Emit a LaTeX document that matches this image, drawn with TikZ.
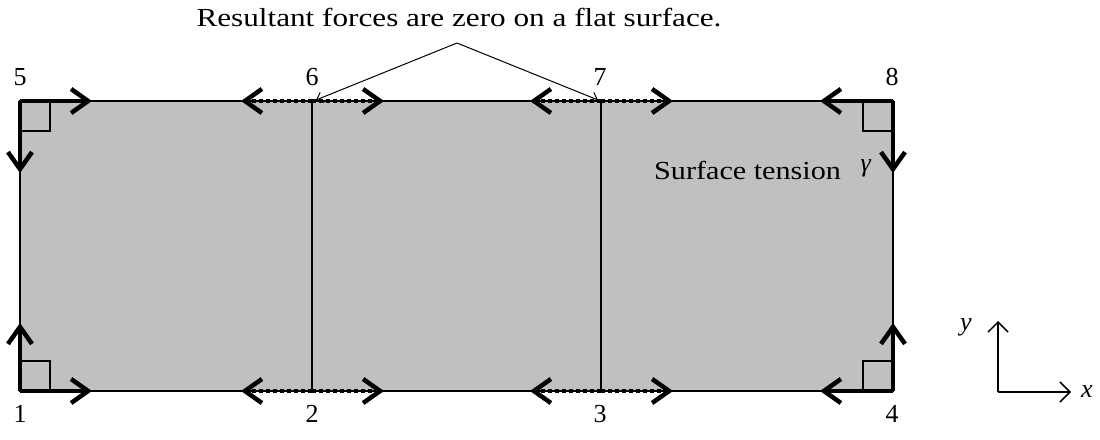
\documentclass[tikz,border=0pt]{standalone}
\usepackage{fontspec}
\usepackage{graphicx}
\setmainfont{Liberation Serif}
\usetikzlibrary{arrows.meta}
\definecolor{sheet}{RGB}{192,192,192}
\newcommand\widetext[1]{\scalebox{1.2}[1]{#1}}
\tikzset{
  force/.style={line width=4.5pt,-{Straight Barb[length=17pt,width=24pt]}},
  dotforce/.style={line width=4pt,dash pattern=on 4pt off 3pt,-{Straight Barb[length=17pt,width=24pt,line width=4.5pt]}},
  thinline/.style={line width=1.3pt},
  lbl/.style={font=\fontsize{26}{30}\selectfont, inner sep=0pt},
  pointer/.style={line width=1pt,-{Straight Barb[length=6pt,width=11pt]}},
  axis/.style={line width=1.5pt,-{Straight Barb[length=10pt,width=20pt]}}
}
\begin{document}
\begin{tikzpicture}[x=1pt,y=-1pt]
\useasboundingbox (0,0) rectangle (1100,439);
% corners
\coordinate (c1) at (20,391);
\coordinate (c2) at (312,391);
\coordinate (c3) at (601,391);
\coordinate (c4) at (893,391);
\coordinate (c5) at (20,101);
\coordinate (c6) at (312,101);
\coordinate (c7) at (601,101);
\coordinate (c8) at (893,101);
% sheet
\fill[sheet] (c5) rectangle (c4);
\draw[thinline] (c5) rectangle (c4);
\draw[thinline] (c6) -- (c2);
\draw[thinline] (c7) -- (c3);
% right-angle marks
\draw[thinline] (c5) rectangle +(30,30);
\draw[thinline] (c8) rectangle +(-30,30);
\draw[thinline] (c1) rectangle +(30,-30);
\draw[thinline] (c4) rectangle +(-30,-30);
% corner forces
\draw[force] (c5) -- +(72,0);
\draw[force] (c5) -- +(0,72);
\draw[force] (c8) -- +(-73,0);
\draw[force] (c8) -- +(0,72);
\draw[force] (c1) -- +(72,0);
\draw[force] (c1) -- +(0,-68);
\draw[force] (c4) -- +(-73,0);
\draw[force] (c4) -- +(0,-68);
% balanced forces
\foreach \c in {c2,c3,c6,c7}{
  \draw[dotforce] (\c) -- +(-71,0);
  \draw[dotforce] (\c) -- +(72,0);
}
% labels
\node[lbl] (l1) at (20,414) {1};
\node[lbl] (l2) at (312,414) {2};
\node[lbl] (l3) at (600,414) {3};
\node[lbl] (l4) at (892,414) {4};
\node[lbl] (l5) at (20,77) {5};
\node[lbl] (l6) at (312,77) {6};
\node[lbl] (l7) at (600,77) {7};
\node[lbl] (l8) at (892,77) {8};
% annotation
\node[lbl] (note) at (459,18) {\widetext{Resultant forces are zero on a flat surface.}};
\coordinate (apex) at (457,43);
\draw[pointer] (apex) -- (316,100);
\draw[pointer] (apex) -- (598,100);
\node[lbl, anchor=west] (st) at (654,170) {\scalebox{1.16}[1]{Surface tension}};
\node[lbl] (gam) at (866,168) {\textit{γ}};
% axes
\coordinate (o) at (998,392);
\draw[axis] (o) -- (998,321);
\draw[axis] (o) -- (1071,392);
\node[lbl] (ly) at (966,327) {\textit{y}};
\node[lbl] (lx) at (1087,392) {\textit{x}};
\end{tikzpicture}
\end{document}
